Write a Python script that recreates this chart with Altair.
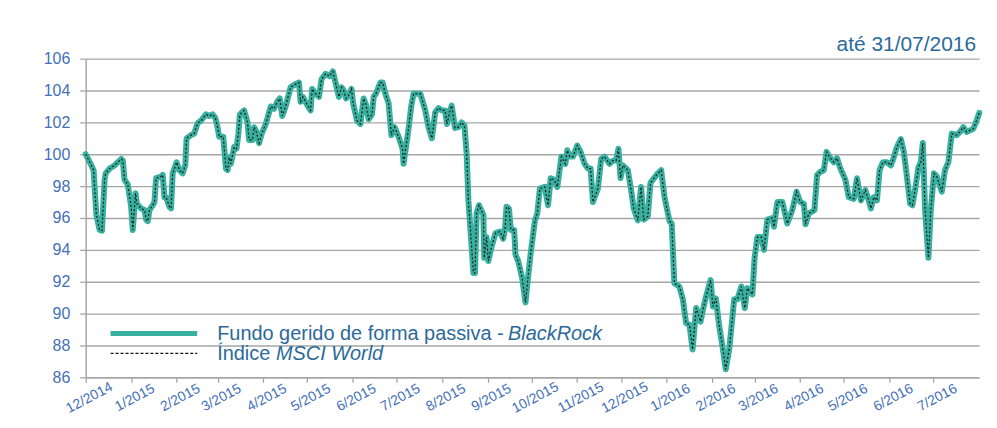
import altair as alt
import pandas as pd

# ---------------- data ----------------
start_date = "2014-12-01"
# days elapsed since 1 Dec 2014 for each observation
days = [0, 3.9, 5.4, 6.3, 7.3, 9.5, 11.1, 12.9, 13.6, 16.3,
        19.7, 21.9, 24.3, 25.3, 26.5, 28.7, 31.0, 32.1, 34.0, 34.9,
        37.8, 40.1, 41.2, 42.3, 43.5, 45.7, 46.9, 48.0, 51.4, 52.5,
        53.7, 54.8, 57.1, 58.2, 59.3, 62.0, 63.9, 66.1, 67.9, 68.8,
        71.8, 74.0, 76.3, 78.6, 82.0, 84.2, 86.5, 88.3, 89.9, 91.0,
        93.8, 95.6, 96.7, 97.8, 99.0, 101.2, 102.8, 104.1, 105.1, 108.0,
        110.3, 111.4, 113.7, 114.8, 116.0, 118.2, 120.0, 122.8, 126.2, 128.4,
        130.6, 132.3, 134.0, 136.3, 139.7, 143.1, 145.4, 146.5, 148.1, 151.0,
        153.3, 154.4, 156.7, 159.0, 160.8, 163.5, 166.2, 168.5, 170.3, 172.6,
        174.4, 175.9, 177.5, 179.3, 181.2, 182.3, 185.0, 187.3, 189.5, 191.1,
        192.9, 195.2, 196.3, 197.9, 200.9, 202.4, 204.3, 206.5, 208.4, 210.6,
        213.3, 216.0, 216.7, 220.1, 221.9, 223.5, 228.1, 231.5, 233.7, 236.0,
        238.3, 240.5, 242.7, 245.0, 246.3, 248.4, 249.5, 251.8, 254.1, 256.3,
        258.2, 259.7, 260.9, 263.1, 264.3, 265.4, 266.5, 268.1, 271.1, 271.7,
        273.3, 274.5, 276.7, 279.4, 282.4, 284.6, 285.8, 286.9, 288.5, 289.9,
        292.1, 293.0, 294.8, 296.0, 297.6, 299.8, 301.6, 303.5, 306.2, 307.9,
        309.6, 313.0, 315.2, 317.0, 319.3, 321.5, 324.3, 327.0, 328.3, 330.0,
        332.2, 335.1, 337.4, 340.1, 342.4, 344.2, 345.8, 349.2, 351.4, 353.7,
        357.1, 359.4, 361.6, 363.2, 364.6, 366.2, 369.6, 371.8, 373.6, 376.4,
        378.6, 380.4, 383.2, 385.0, 390.0, 392.3, 394.6, 398.0, 399.5, 401.3,
        404.7, 407.1, 409.3, 411.6, 413.7, 416.2, 419.2, 420.8, 423.0, 426.0,
        427.6, 429.6, 431.9, 434.1, 436.3, 438.7, 442.1, 444.3, 447.0, 449.3,
        451.1, 454.5, 456.0, 457.9, 460.6, 462.4, 464.7, 468.1, 469.2, 471.5,
        474.9, 478.3, 481.7, 484.6, 487.1, 489.6, 490.7, 493.0, 495.2, 496.8,
        498.6, 500.9, 503.2, 505.0, 507.7, 510.0, 512.2, 514.5, 517.9, 520.2,
        523.6, 525.8, 528.5, 531.5, 533.8, 535.3, 537.2, 539.4, 541.2, 543.5,
        546.2, 548.9, 550.7, 553.0, 555.7, 557.5, 559.3, 562.0, 563.6, 565.4,
        567.7, 569.3, 570.7, 572.2, 574.5, 576.1, 578.3, 580.2, 583.6, 585.8,
        588.1, 590.4, 593.8, 596.0, 598.3, 600.5, 602.8, 605.1, 607.3, 609.2]

fund_values = [100.0, 99.3, 99.0, 97.6, 96.2, 95.25, 95.2, 98.4, 98.8, 99.1,
               99.3, 99.5, 99.7, 99.6, 98.4, 98.1, 96.7, 95.25, 97.55, 96.9,
               96.6, 96.5, 95.9, 95.8, 96.5, 96.8, 97.0, 98.5, 98.6, 98.7,
               97.3, 97.3, 96.7, 96.6, 98.8, 99.5, 99.0, 98.8, 99.3, 101.0,
               101.2, 101.3, 101.95, 102.1, 102.5, 102.4, 102.5, 102.3, 101.7, 101.1,
               101.1, 99.1, 99.0, 99.8, 99.4, 100.45, 100.35, 101.3, 102.5, 102.75,
               102.0, 100.9, 100.9, 101.7, 101.5, 100.7, 101.3, 101.9, 103.0, 102.85,
               103.3, 103.5, 102.4, 103.0, 104.2, 104.4, 104.5, 103.3, 103.6, 103.1,
               102.75, 104.1, 103.8, 103.6, 104.7, 105.05, 104.9, 105.2, 104.5, 103.6,
               104.2, 104.0, 103.5, 103.7, 104.1, 103.2, 102.1, 101.9, 103.5, 103.1,
               102.2, 102.5, 103.6, 103.8, 104.5, 104.5, 103.8, 103.2, 101.2, 101.7,
               101.1, 100.35, 99.4, 101.6, 103.0, 103.8, 103.8, 102.75, 101.7, 101.0,
               102.65, 102.9, 102.75, 102.75, 101.9, 102.75, 103.05, 101.65, 101.7, 102.0,
               101.8, 100.05, 97.1, 94.2, 92.55, 92.55, 96.3, 96.8, 96.2, 93.5,
               94.8, 93.3, 94.2, 95.05, 95.15, 94.7, 95.25, 96.7, 96.6, 95.25,
               95.25, 93.7, 93.3, 92.85, 92.2, 90.7, 92.3, 93.9, 95.8, 96.3,
               97.85, 97.95, 96.8, 98.5, 98.4, 97.95, 99.85, 99.4, 100.25, 99.85,
               99.85, 100.55, 100.15, 99.4, 99.1, 99.1, 97.0, 97.85, 99.7, 99.85,
               99.4, 99.6, 99.6, 100.35, 98.5, 99.3, 99.0, 97.75, 96.6, 95.85,
               97.95, 95.9, 96.1, 98.2, 98.8, 99.0, 97.3, 95.8, 95.65, 91.9,
               91.7, 90.9, 89.4, 89.3, 87.75, 90.35, 89.5, 90.25, 91.1, 92.1,
               90.45, 90.95, 89.2, 87.95, 86.5, 87.75, 90.9, 90.9, 91.7, 90.35,
               91.6, 91.2, 93.5, 94.8, 94.8, 94.0, 95.9, 96.0, 95.45, 97.0,
               97.0, 95.65, 96.5, 97.65, 97.0, 96.9, 95.6, 96.3, 96.4, 96.5,
               98.7, 98.9, 99.0, 100.15, 99.75, 99.5, 99.75, 99.1, 98.4, 97.3,
               97.2, 98.5, 97.1, 97.75, 97.1, 96.6, 97.3, 97.1, 99.0, 99.5,
               99.5, 99.3, 99.75, 100.45, 100.95, 100.25, 99.0, 96.9, 96.8, 97.75,
               99.2, 99.5, 100.7, 96.5, 93.5, 96.5, 98.8, 98.6, 97.65, 99.0,
               99.5, 101.3, 101.2, 101.4, 101.7, 101.4, 101.5, 101.6, 102.1, 102.6]

# The MSCI World index coincides with the fund at the resolution of the picture
index_values = list(fund_values)

month_ticks = [(2014, 12), (2015, 1), (2015, 2), (2015, 3), (2015, 4), (2015, 5),
               (2015, 6), (2015, 7), (2015, 8), (2015, 9), (2015, 10), (2015, 11),
               (2015, 12), (2016, 1), (2016, 2), (2016, 3), (2016, 4), (2016, 5),
               (2016, 6), (2016, 7)]
y_ticks = [86, 88, 90, 92, 94, 96, 98, 100, 102, 104, 106]

title_text = "até 31/07/2016"
legend_fund = "Fundo gerido de forma passiva -"
legend_fund_it = "BlackRock"
legend_index = "Índice"
legend_index_it = "MSCI World"

# ---------------- styling ----------------
W, H = 897, 320
TEAL = "#38b09f"
BLUE_LBL = "#4470b8"
BLUE_TXT = "#2b6a9a"
GRID = "#a6a6a6"
FONT = "Liberation Sans"

df = pd.DataFrame({
    "date": pd.Timestamp(start_date) + pd.to_timedelta(days, unit="D"),
    "fund": fund_values,
    "index": index_values,
})

x_enc = alt.X(
    "date:T",
    scale=alt.Scale(domain=[alt.DateTime(year=2014, month=12, date=1),
                            alt.DateTime(year=2016, month=8, date=1)], nice=False),
    axis=alt.Axis(
        title=None, grid=False,
        values=[alt.DateTime(year=y, month=m, date=1) for (y, m) in month_ticks],
        format="%-m/%Y", formatType="time",
        labelAngle=-28, labelAlign="center", labelBaseline="top",
        labelFontSize=14, labelColor=BLUE_LBL, labelFont=FONT, labelPadding=9,
        domainColor=GRID, domainWidth=1.5, tickColor=GRID, tickSize=5, tickWidth=1.3,
        labelOverlap=False,
    ),
)

y_scale = alt.Scale(domain=[86, 106], nice=False, zero=False)
y_axis = alt.Axis(
    title=None, values=y_ticks, tickCount=11, grid=True, gridColor=GRID, gridWidth=1.4,
    labelFontSize=16, labelColor=BLUE_LBL, labelFont=FONT, labelPadding=10,
    labelOverlap=False,
    domainColor=GRID, domainWidth=1.5, tickColor=GRID, tickSize=6, tickWidth=1.3,
)

base = alt.Chart(df)
fund_line = base.mark_line(color=TEAL, strokeWidth=6, strokeJoin="round",
                           strokeCap="round").encode(
    x=x_enc, y=alt.Y("fund:Q", scale=y_scale, axis=y_axis))
index_line = base.mark_line(color="#1b1b1b", strokeWidth=1.2, strokeDash=[2, 2]).encode(
    x=x_enc, y=alt.Y("index:Q", scale=y_scale, axis=y_axis))

one = pd.DataFrame({"k": [0]})
leg_fund_rule = alt.Chart(one).mark_rule(color=TEAL, strokeWidth=5).encode(
    x=alt.value(25), x2=alt.value(112), y=alt.value(276))
leg_index_rule = alt.Chart(one).mark_rule(color="#111111", strokeWidth=1.3,
                                          strokeDash=[3, 2]).encode(
    x=alt.value(25), x2=alt.value(112), y=alt.value(296))

txt = dict(fontSize=20, font=FONT, color=BLUE_TXT, align="left", baseline="alphabetic")
leg_t1 = alt.Chart(one).mark_text(text=legend_fund, **txt).encode(
    x=alt.value(132), y=alt.value(283))
leg_t1i = alt.Chart(one).mark_text(text=legend_fund_it, fontStyle="italic", **txt).encode(
    x=alt.value(424), y=alt.value(283))
leg_t2 = alt.Chart(one).mark_text(text=legend_index, **txt).encode(
    x=alt.value(132), y=alt.value(303))
leg_t2i = alt.Chart(one).mark_text(text=legend_index_it, fontStyle="italic", **txt).encode(
    x=alt.value(191), y=alt.value(303))

title_mark = alt.Chart(one).mark_text(text=title_text, fontSize=21, font=FONT,
                                      color=BLUE_TXT, align="right",
                                      baseline="alphabetic").encode(
    x=alt.value(W - 3), y=alt.value(-8))

chart = alt.layer(
    fund_line, index_line, leg_fund_rule, leg_index_rule,
    leg_t1, leg_t1i, leg_t2, leg_t2i, title_mark,
).properties(
    width=W, height=H,
    autosize=alt.AutoSizeParams(type="none"),
    padding={"left": 78, "top": 50, "right": 10, "bottom": 40},
    background="white",
).configure_view(strokeWidth=0)

chart.save("out.html", embed_options={"renderer": "svg", "actions": False})
